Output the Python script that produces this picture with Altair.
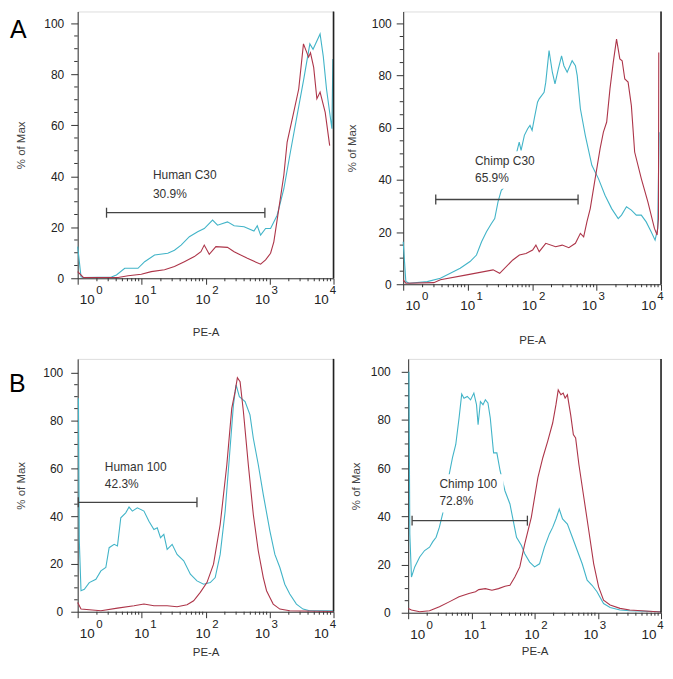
import math
import altair as alt
import pandas as pd

FONT = "Liberation Sans"
CYAN = "#42b4c8"
RED = "#ad3549"

# ---------------- data (x = log10(PE-A), y = % of Max) ----------------
# Panel A left : Human C30
al_cyan_x = [0.0, 0.052, 0.088, 0.528, 0.606, 0.736, 0.943, 1.047, 1.202, 1.409, 1.513, 1.617, 1.746,
             1.876, 1.979, 2.109, 2.187, 2.342, 2.446, 2.601, 2.756, 2.808, 2.860, 2.938, 3.016, 3.119,
             3.223, 3.326, 3.430, 3.534, 3.630, 3.680, 3.790, 3.840, 3.890, 3.940, 3.975, 3.990]
al_cyan_y = [12.4, 0.6, 0.3, 0.5, 1.3, 3.9, 3.9, 6.5, 9.1, 9.8, 11.0, 13.0, 16.3,
             18.2, 19.5, 22.8, 20.8, 22.1, 20.6, 20.2, 18.5, 20.6, 16.9, 19.5, 19.5, 24.7,
             35.0, 49.5, 63.8, 78.0, 91.9, 89.8, 95.8, 87.0, 74.3, 65.0, 58.6, 86.0]
al_red_x = [0.0, 0.088, 0.632, 0.788, 0.995, 1.150, 1.358, 1.513, 1.668, 1.824, 1.927, 1.979, 2.057,
            2.161, 2.342, 2.446, 2.653, 2.860, 2.938, 3.016, 3.067, 3.145, 3.223, 3.275, 3.378, 3.456,
            3.530, 3.610, 3.640, 3.690, 3.740, 3.790, 3.870, 3.940]
al_red_y = [2.6, 0.3, 0.3, 1.0, 1.6, 2.6, 3.3, 4.6, 6.5, 8.5, 10.4, 13.0, 9.4,
            12.4, 12.1, 10.4, 7.8, 5.5, 7.2, 9.8, 14.3, 27.3, 40.4, 53.4, 65.1, 74.2,
            91.9, 86.7, 88.4, 82.7, 70.4, 73.0, 65.0, 52.0]

# Panel A right : Chimp C30
ar_cyan_x = [0.0, 0.041, 0.092, 0.373, 0.577, 0.731, 0.884, 1.037, 1.137, 1.216, 1.292, 1.369, 1.420,
             1.471, 1.522, 1.573, 1.762, 1.800, 1.829, 1.880, 1.931, 1.967, 2.000, 2.033, 2.084, 2.110,
             2.186, 2.212, 2.263, 2.314, 2.355, 2.406, 2.457, 2.493, 2.544, 2.621, 2.672, 2.700, 2.749,
             2.825, 2.927, 2.978, 3.029, 3.131, 3.234, 3.336, 3.387, 3.464, 3.540, 3.617, 3.694, 3.770,
             3.847, 3.908, 3.949, 3.970]
ar_cyan_y = [16.3, 1.0, 0.4, 1.0, 2.3, 4.2, 6.1, 8.7, 11.2, 16.3, 20.1, 23.3, 25.2,
             31.6, 36.0, 37.3, 50.7, 54.5, 51.3, 57.1, 59.6, 60.9, 59.0, 63.4, 69.8, 71.1,
             73.6, 77.5, 89.6, 81.3, 76.8, 82.5, 87.6, 83.8, 81.3, 85.7, 83.8, 80.0, 67.3,
             57.1, 45.6, 43.0, 40.5, 34.1, 29.0, 25.2, 26.5, 29.7, 28.4, 26.5, 26.5, 23.9,
             20.1, 16.9, 21.4, 58.3]
ar_red_x = [0.0, 0.041, 0.475, 0.577, 0.986, 1.395, 1.497, 1.701, 1.803, 1.905, 2.008, 2.059, 2.110,
            2.212, 2.365, 2.467, 2.570, 2.672, 2.749, 2.800, 2.851, 2.902, 2.978, 3.055, 3.106, 3.157,
            3.208, 3.259, 3.310, 3.361, 3.397, 3.438, 3.489, 3.540, 3.591, 3.694, 3.796, 3.898, 3.939,
            3.960, 3.965]
ar_red_y = [1.7, 0.4, 0.6, 1.7, 3.6, 5.5, 4.2, 9.3, 11.2, 11.8, 13.1, 15.0, 12.5,
            15.7, 14.4, 15.0, 14.0, 15.7, 19.5, 18.2, 24.0, 29.0, 40.5, 52.0, 58.3, 62.2,
            74.9, 85.1, 94.0, 86.4, 85.7, 78.7, 77.5, 68.5, 50.7, 40.5, 31.6, 21.4, 18.9,
            25.0, 88.9]

# Panel B left : Human 100
bl_cyan_x = [0.012, 0.025, 0.052, 0.104, 0.181, 0.285, 0.363, 0.440, 0.492, 0.570, 0.622, 0.674, 0.751,
             0.803, 0.855, 0.933, 1.036, 1.114, 1.192, 1.244, 1.295, 1.347, 1.399, 1.477, 1.554, 1.658,
             1.762, 1.865, 1.969, 2.073, 2.150, 2.228, 2.306, 2.383, 2.435, 2.477, 2.528, 2.617, 2.694,
             2.746, 2.824, 2.902, 3.005, 3.083, 3.161, 3.238, 3.316, 3.420, 3.523, 3.627, 3.990]
bl_cyan_y = [89.3, 30.0, 8.8, 9.4, 12.2, 13.6, 17.1, 18.5, 26.8, 28.2, 27.5, 39.3, 41.4,
             43.8, 42.1, 43.5, 42.1, 37.9, 34.4, 35.1, 31.0, 32.4, 26.1, 28.2, 24.0, 21.3,
             15.7, 12.9, 11.5, 12.2, 14.3, 24.0, 42.1, 68.5, 86.5, 94.9, 90.0, 87.9, 82.4,
             72.6, 61.5, 49.0, 33.8, 24.0, 18.5, 11.5, 7.4, 3.2, 1.1, 0.4, 0.4]
bl_red_x = [0.0, 0.052, 0.363, 0.622, 0.881, 1.036, 1.192, 1.399, 1.554, 1.710, 1.813, 1.917, 2.021,
            2.124, 2.228, 2.332, 2.409, 2.461, 2.497, 2.539, 2.591, 2.668, 2.746, 2.824, 2.902, 2.953,
            3.005, 3.057, 3.161, 3.316, 3.990]
bl_red_y = [3.9, 1.1, 0.4, 1.5, 2.5, 3.2, 2.5, 2.5, 2.1, 2.9, 4.6, 8.1, 12.2,
            19.9, 36.5, 61.5, 85.1, 92.1, 97.9, 96.3, 83.8, 61.5, 40.7, 25.4, 14.3, 8.8,
            6.0, 3.2, 1.1, 0.4, 0.1]

# Panel B right : Chimp 100
br_cyan_x = [0.012, 0.026, 0.052, 0.104, 0.182, 0.260, 0.338, 0.390, 0.442, 0.494, 0.545, 0.597, 0.649,
             0.701, 0.753, 0.805, 0.847, 0.883, 0.935, 0.987, 1.039, 1.081, 1.106, 1.143, 1.184, 1.221,
             1.262, 1.299, 1.351, 1.403, 1.455, 1.532, 1.610, 1.662, 1.714, 1.792, 1.844, 1.922, 2.000,
             2.078, 2.156, 2.234, 2.286, 2.338, 2.390, 2.442, 2.519, 2.597, 2.675, 2.753, 2.831, 2.909,
             2.987, 3.091, 3.195, 3.351, 3.506, 4.000]
br_cyan_y = [100.0, 32.7, 14.8, 19.0, 23.1, 25.8, 27.2, 29.5, 31.3, 35.5, 41.0, 48.0, 57.4,
             64.3, 69.8, 80.8, 90.7, 89.0, 89.7, 88.3, 91.1, 86.3, 78.0, 87.6, 86.3, 88.3,
             87.0, 80.8, 66.3, 66.3, 58.8, 50.5, 45.1, 38.2, 31.3, 27.9, 24.5, 21.0, 19.0,
             20.3, 27.2, 32.7, 35.4, 38.9, 43.0, 38.9, 36.8, 31.3, 25.8, 20.3, 13.5, 11.4,
             8.7, 3.8, 2.2, 1.1, 0.8, 0.4]
br_red_x = [0.0, 0.052, 0.182, 0.338, 0.494, 0.649, 0.805, 0.961, 1.065, 1.117, 1.221, 1.325, 1.429,
            1.532, 1.610, 1.688, 1.766, 1.844, 1.948, 2.052, 2.130, 2.208, 2.286, 2.338, 2.374, 2.416,
            2.452, 2.483, 2.519, 2.571, 2.613, 2.649, 2.701, 2.779, 2.857, 2.935, 3.013, 3.091, 3.195,
            3.351, 3.506, 4.000]
br_red_y = [1.8, 1.1, 0.4, 0.8, 2.5, 4.5, 6.6, 8.0, 8.7, 9.6, 10.0, 9.3, 10.0,
            11.0, 11.4, 14.8, 19.0, 28.6, 39.6, 56.0, 64.3, 71.2, 78.7, 86.3, 92.4, 90.4,
            91.1, 89.0, 90.4, 82.1, 73.9, 72.5, 61.5, 47.8, 34.1, 20.3, 10.7, 5.2, 3.2,
            1.8, 1.1, 0.3]

# gates (x from, x to, y) and annotations
gate_al = ([0.451, 2.927], 25.7)
gate_ar = ([0.505, 2.713], 32.5)
gate_bl = ([0.010, 1.865], 45.8)
gate_br = ([0.062, 1.886], 38.2)
text_al = (["Human C30", "30.9%"], 1.176, [40.4, 33.2])
text_ar = (["Chimp C30", "65.9%"], 1.114, [47.1, 40.8])
text_bl = (["Human 100", "42.3%"], 0.425, [60.4, 53.5])
text_br = (["Chimp 100", "72.8%"], 0.494, [53.3, 46.4])
# white label boxes hiding the curves: x0, x1, y0, y1
box_ar = [1.08, 2.10, 36.6, 51.0]
box_br = [0.46, 1.51, 41.6, 57.4]

# axis ticks / tick labels
y_major = [0, 20, 40, 60, 80, 100]
y_minor = [5, 10, 15, 25, 30, 35, 45, 50, 55, 65, 70, 75, 85, 90, 95]
x_major = [0, 1, 2, 3, 4]
x_minor_mult = [2, 3, 4, 5, 6, 7, 8, 9]
x_lab_base_pos = [0.15, 1.0, 1.96, 2.89, 3.81]
x_lab_exp_pos = [0.34, 1.185, 2.155, 3.08, 3.99]
x_lab_exp = ["0", "1", "2", "3", "4"]

x_minor = [d + math.log10(m) for d in range(4) for m in x_minor_mult]


def panel(cx, cy, rx, ry, gate, txt, box, w, h, ytop, lpad, tpad, xtpad, letter=None, letter_x=-68, letter_y=0):
    xs = alt.Scale(domain=[0, 4], nice=False, zero=False)
    ys = alt.Scale(domain=[0, ytop], nice=False, zero=False)
    xaxis = alt.Axis(values=x_major, labels=False, tickSize=6, tickColor="#333", domainColor="#333",
                     grid=False, title="PE-A", titleFont=FONT, titleFontSize=11.5, zindex=0,
                     titleFontWeight="normal", titleColor="#333", titlePadding=xtpad)
    yaxis = alt.Axis(values=y_major, tickSize=7, tickColor="#333", domainColor="#333", grid=False,
                     labelFont=FONT, labelFontSize=12, labelColor="#222", labelPadding=lpad, zindex=0,
                     title="% of Max", titleFont=FONT, titleFontSize=11.5, titleFontWeight="normal",
                     titleColor="#444", titlePadding=tpad)
    dc = pd.DataFrame({"x": cx, "y": cy, "i": range(len(cx))})
    dr = pd.DataFrame({"x": rx, "y": ry, "i": range(len(rx))})
    layers = []
    layers.append(alt.Chart(dc).mark_line(color=CYAN, strokeWidth=1.1).encode(
        x=alt.X("x:Q", scale=xs, axis=xaxis), y=alt.Y("y:Q", scale=ys, axis=yaxis), order="i:Q"))
    layers.append(alt.Chart(dr).mark_line(color=RED, strokeWidth=1.1).encode(
        x=alt.X("x:Q", scale=xs), y=alt.Y("y:Q", scale=ys), order="i:Q"))
    if box is not None:
        db = pd.DataFrame({"x": [box[0]], "x2": [box[1]], "y": [box[2]], "y2": [box[3]]})
        layers.append(alt.Chart(db).mark_rect(color="white").encode(
            x="x:Q", x2="x2:Q", y="y:Q", y2="y2:Q"))
    dg = pd.DataFrame({"x": [gate[0][0]], "x2": [gate[0][1]], "y": [gate[1]]})
    layers.append(alt.Chart(dg).mark_rule(color="#444", strokeWidth=1.3).encode(
        x="x:Q", x2="x2:Q", y="y:Q"))
    dgc = pd.DataFrame({"x": gate[0], "y": [gate[1]] * 2})
    layers.append(alt.Chart(dgc).mark_tick(orient="vertical", size=10, thickness=1.3,
                                           color="#444", opacity=1).encode(x="x:Q", y="y:Q"))
    dt = pd.DataFrame({"x": [txt[1]] * 2, "y": txt[2], "t": txt[0]})
    layers.append(alt.Chart(dt).mark_text(align="left", baseline="middle", font=FONT, fontSize=12,
                                          color="#333").encode(x="x:Q", y="y:Q", text="t:N"))
    dym = pd.DataFrame({"y": y_minor})
    layers.append(alt.Chart(dym).mark_rule(color="#333", strokeWidth=1).encode(
        y="y:Q", x=alt.value(-3.5), x2=alt.value(0)))
    dxm = pd.DataFrame({"x": x_minor})
    layers.append(alt.Chart(dxm).mark_rule(color="#333", strokeWidth=1).encode(
        x="x:Q", y=alt.value(h), y2=alt.value(h + 3)))
    layers.append(alt.Chart(pd.DataFrame({"a": [0]})).mark_rule(color="#222", strokeWidth=1.6).encode(
        x=alt.value(w), y=alt.value(0), y2=alt.value(h)))
    dlb = pd.DataFrame({"x": x_lab_base_pos, "t": ["10"] * 5})
    layers.append(alt.Chart(dlb).mark_text(align="center", baseline="middle", font=FONT,
                                           fontSize=13.5, color="#222").encode(
        x="x:Q", y=alt.value(h + 22), text="t:N"))
    dle = pd.DataFrame({"x": x_lab_exp_pos, "t": x_lab_exp})
    layers.append(alt.Chart(dle).mark_text(align="center", baseline="middle", font=FONT,
                                           fontSize=11.5, color="#222").encode(
        x="x:Q", y=alt.value(h + 13), text="t:N"))
    if letter:
        layers.append(alt.Chart(pd.DataFrame({"t": [letter]})).mark_text(
            align="left", baseline="middle", font=FONT, fontSize=25, color="#000").encode(
            x=alt.value(letter_x), y=alt.value(letter_y), text="t:N"))
    return alt.layer(*layers).properties(width=w, height=h)


AL = panel(al_cyan_x, al_cyan_y, al_red_x, al_red_y, gate_al, text_al, None, 257, 268, 104.6, 7, 17, 42,
           "A", -68, 19)
AR = panel(ar_cyan_x, ar_cyan_y, ar_red_x, ar_red_y, gate_ar, text_ar, box_ar, 259, 274, 104.6, 5, 14, 44)
BL = panel(bl_cyan_x, bl_cyan_y, bl_red_x, bl_red_y, gate_bl, text_bl, None, 257, 254, 105.8, 8, 16, 28,
           "B", -69, 25)
BR = panel(br_cyan_x, br_cyan_y, br_red_x, br_red_y, gate_br, text_br, box_br, 254, 255, 105.3, 11, 9, 26)

rowA = alt.hconcat(AL, AR, spacing=8)
rowB = alt.hconcat(BL, BR, spacing=12)
chart = alt.ConcatChart(concat=[rowA, rowB], columns=1, align="each", spacing=10).properties(
    padding={"left": 0, "top": 0, "right": 0, "bottom": 0}
).configure_view(stroke="#999", strokeWidth=1).configure(background="white")

chart.save("out.html", embed_options={"renderer": "svg", "actions": False})
